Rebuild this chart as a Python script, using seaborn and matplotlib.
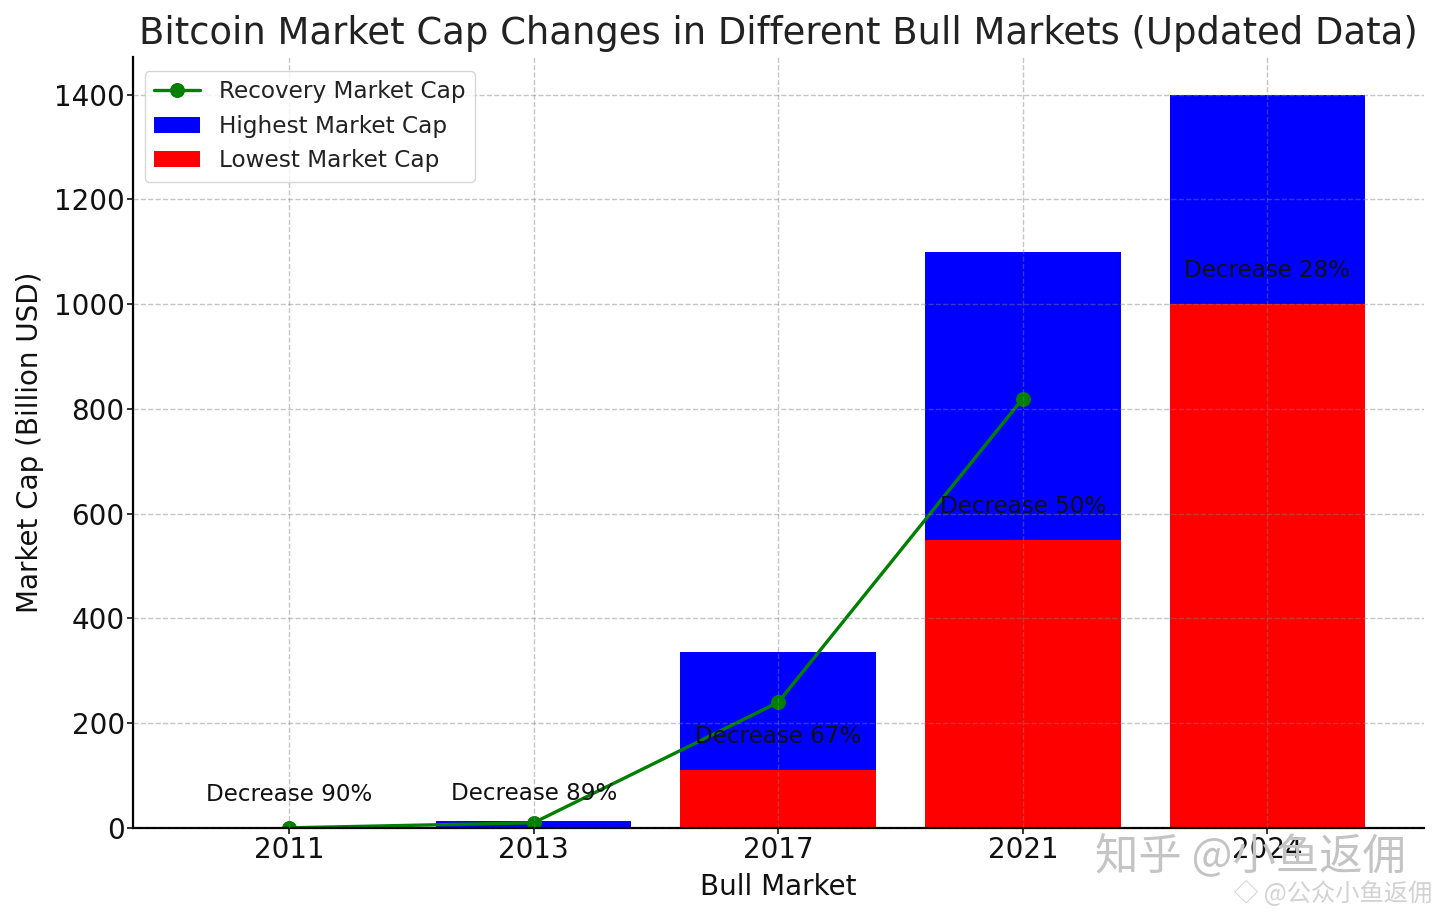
import seaborn as sns
import matplotlib
matplotlib.use('Agg')
import matplotlib.pyplot as plt

# valores
anos = ['2011', '2013', '2017', '2021', '2024']
maior_cap = [0.3, 13, 336, 1100, 1400]
menor_cap = [0.03, 2, 110, 550, 1000]
recuperacao = [0.3, 10, 240, 820, None]
quedas = [90, 89, 67, 50, 28]

sns.set_theme(style='white')
plt.rcParams['font.family'] = ['DejaVu Sans', 'Noto Sans CJK SC']

fig, ax = plt.subplots(figsize=(14.4, 9.17), dpi=100)
fig.subplots_adjust(left=133 / 1440, right=1424 / 1440, top=1 - 57 / 917, bottom=1 - 828 / 917)

sns.barplot(x=anos, y=maior_cap, color='blue', saturation=1, width=0.8, linewidth=0,
            label='Highest Market Cap', ax=ax)
sns.barplot(x=anos, y=menor_cap, color='red', saturation=1, width=0.8, linewidth=0,
            label='Lowest Market Cap', ax=ax)
sns.lineplot(x=anos, y=recuperacao, color='green', marker='o', markersize=10,
             markeredgecolor='green', linewidth=2.4, label='Recovery Market Cap', ax=ax)

# texto de queda um pouco acima do valor minimo
for i, q in enumerate(quedas):
    ax.text(i, menor_cap[i] + 64, f'Decrease {q}%', ha='center', va='center',
            fontsize=16.6, color='#111111')

ax.set_xlim(-0.638, 4.64)
ax.set_ylim(0, 1472)
ax.set_yticks(range(0, 1401, 200))
ax.set_axisbelow(False)
ax.grid(True, linestyle='--', linewidth=1, color='gray', alpha=0.45)
sns.despine(ax=ax)
for lado in ['left', 'bottom']:
    ax.spines[lado].set_color('black')
    ax.spines[lado].set_linewidth(1.6)

ax.tick_params(axis='both', labelsize=20, colors='#111111', length=4, width=1.2,
               bottom=True, left=True, pad=2)
ax.set_xlabel('Bull Market', fontsize=20, color='#111111', labelpad=6)
ax.set_ylabel('Market Cap (Billion USD)', fontsize=20, color='#111111', labelpad=7)
ax.set_title('Bitcoin Market Cap Changes in Different Bull Markets (Updated Data)',
             fontsize=26.6, color='#222222', pad=9)

ax.legend(loc='upper left', bbox_to_anchor=(0.0, 0.997), fontsize=16.7, frameon=True,
          edgecolor='#cccccc', framealpha=0.8, labelcolor='#222222')

# marca d'agua
fig.text(1095 / 1440, 1 - 858 / 917, '知乎 @小鱼返佣', fontsize=31.2, color='#c4c4c4',
         ha='left', va='center', family=['Noto Sans CJK SC', 'DejaVu Sans'])
fig.text(1432 / 1440, 1 - 894 / 917, '◇ @公众小鱼返佣', fontsize=17.5, color='#d2d2d2',
         ha='right', va='center', family=['Noto Sans CJK SC', 'DejaVu Sans'])

fig.savefig('out.png', dpi=100)
plt.close(fig)
